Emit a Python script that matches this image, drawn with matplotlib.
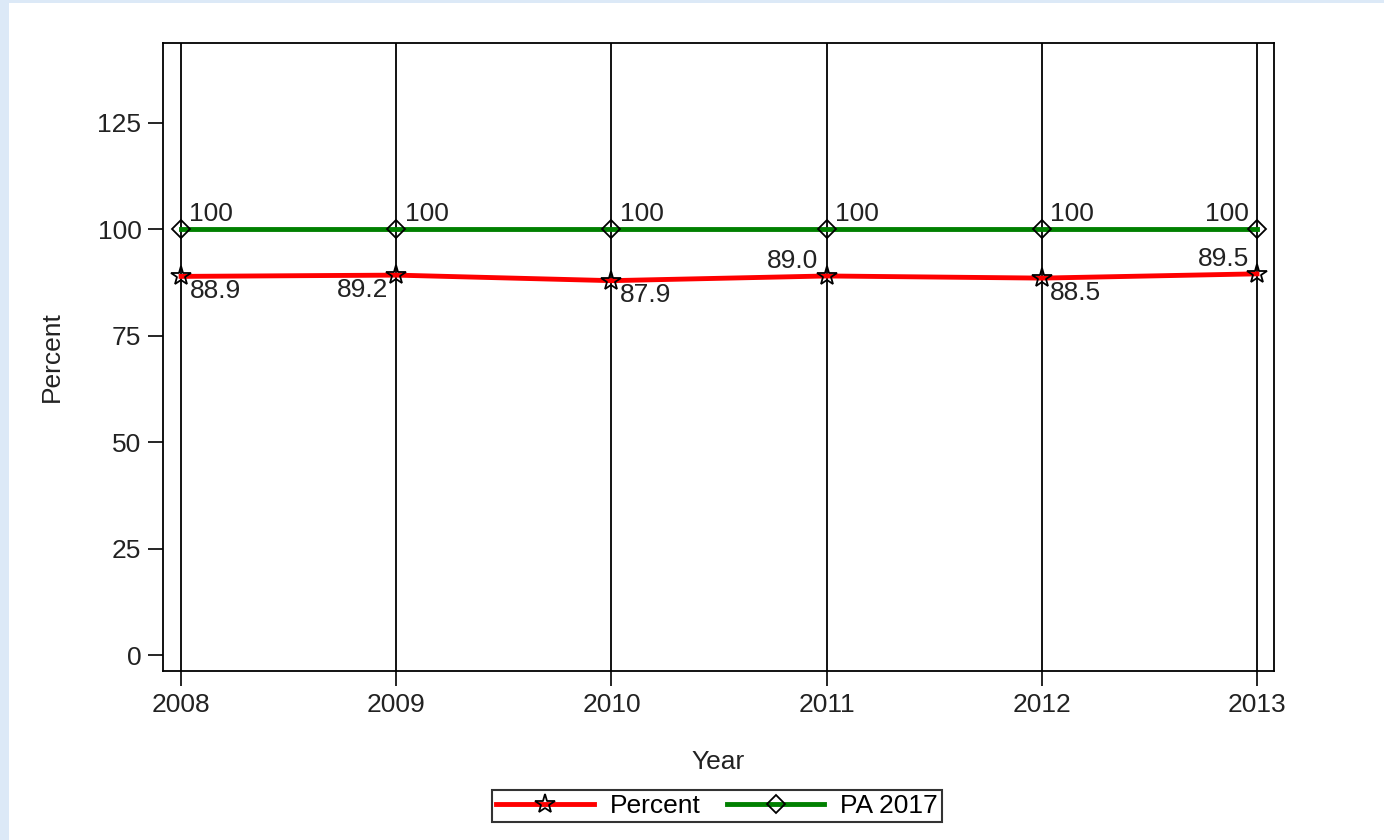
import matplotlib.pyplot as plt
from matplotlib.patches import Rectangle

plt.rcParams['font.family'] = ['Liberation Sans', 'DejaVu Sans']

years = [2008, 2009, 2010, 2011, 2012, 2013]
percent = [88.9, 89.2, 87.9, 89.0, 88.5, 89.5]
pa2017 = [100, 100, 100, 100, 100, 100]
yticks = [0, 25, 50, 75, 100, 125]

# label placement: 'ur' upper right, 'ul' upper left, 'lr' lower right, 'll' lower left
pct_pos = ['lr', 'll', 'lr', 'ul', 'lr', 'ul']
pa_pos = ['ur', 'ur', 'ur', 'ur', 'ur', 'ul']

FS = 19

fig = plt.figure(figsize=(13.84, 8.4), dpi=100)
fig.patch.set_facecolor('#dce9f7')
fig.patches.append(Rectangle((9/1384, 0), 1, 1 - 3/840, transform=fig.transFigure,
                             facecolor='white', edgecolor='none', zorder=-10))

ax = fig.add_axes([163/1384, 1 - 671/840, (1274-163)/1384, (671-43)/840])
ax.set_xlim(2007.916, 2013.079)
ax.set_ylim(-3.75, 143.7)

for x in years:
    ax.axvline(x, color='black', lw=1.3, zorder=1)

ax.plot(years, percent, color='red', lw=3.5, marker='*', ms=15, mfc='none',
        mec='black', mew=1.3, label='Percent', zorder=3)
ax.plot(years, pa2017, color='green', lw=3.5, marker='D', ms=9, mfc='none',
        mec='black', mew=1.3, label='PA 2017', zorder=3)

def place(x, y, txt, pos):
    dx = 6 if pos[1] == 'r' else -6
    dy = 2 if pos[0] == 'u' else -2
    ha = 'left' if pos[1] == 'r' else 'right'
    va = 'bottom' if pos[0] == 'u' else 'top'
    ax.annotate(txt, (x, y), xytext=(dx, dy), textcoords='offset points',
                ha=ha, va=va, fontsize=FS, color='#222222', zorder=4)

for x, y, p in zip(years, percent, pct_pos):
    place(x, y, f'{y:.1f}', p)
for x, y, p in zip(years, pa2017, pa_pos):
    place(x, y, f'{y}', p)

ax.set_xticks(years)
ax.set_yticks(yticks)
ax.tick_params(axis='both', direction='out', length=10.5, width=1.2, labelsize=FS,
               colors='black', labelcolor='#222222', pad=5)
ax.set_xlabel('Year', fontsize=FS, labelpad=24, color='#222222')
ax.set_ylabel('Percent', fontsize=FS, labelpad=24, color='#222222')
for s in ax.spines.values():
    s.set_linewidth(1.3)

leg = ax.legend(loc='center', bbox_to_anchor=(0.4986, -0.215), ncol=2, fontsize=FS,
                frameon=True, fancybox=False, edgecolor='black', handlelength=3.7,
                borderpad=0.15, columnspacing=1.0, handletextpad=0.6)
leg.get_frame().set_linewidth(1.5)

fig.savefig('out.png', dpi=100)
